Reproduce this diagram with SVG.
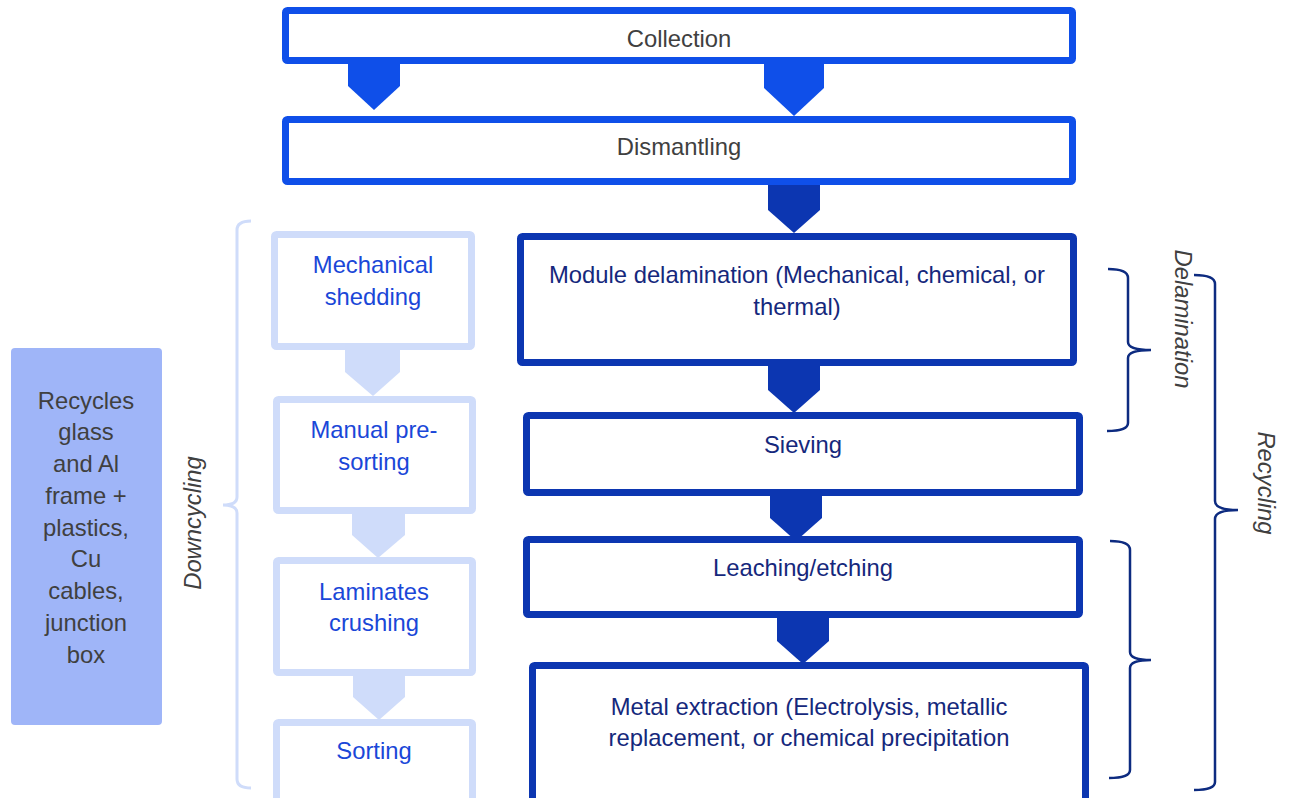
<svg xmlns="http://www.w3.org/2000/svg" width="1290" height="798" viewBox="0 0 1290 798">
<style>
text{font-family:"Liberation Sans",Arial,sans-serif;font-size:23.8px;text-anchor:middle}
.top{fill:#fff;stroke:#0f4fe9;stroke-width:7}
.dark{fill:#fff;stroke:#0c36b1;stroke-width:7}
.light{fill:#fff;stroke:#cfdcfa;stroke-width:7}
.tg{fill:#404040}
.tn{fill:#15287c}
.tb{fill:#1a47d8}
.lab{fill:#404040;font-style:italic}
.atop{fill:#0f4fe9}
.adark{fill:#0c36b1}
.alight{fill:#cfdcfa}
.br{fill:none;stroke:#0d2b80;stroke-width:2.5}
.brl{fill:none;stroke:#cfdcfa;stroke-width:3}
</style>
<rect width="1290" height="798" fill="#fff"/>
<g id="connectors">
<path class="atop" d="M348,62 H400 V86 L374,110 L348,86 Z"/>
<path class="atop" d="M764,62 H824 V88 L794,116 L764,88 Z"/>
<path class="adark" d="M768,184 H820 V210 L794,233 L768,210 Z"/>
<path class="adark" d="M768,365 H820 V390 L794,413 L768,390 Z"/>
<path class="adark" d="M770,495 H822 V518 L796,541 L770,518 Z"/>
<path class="adark" d="M777,617 H829 V641 L803,664 L777,641 Z"/>
<path class="alight" d="M345,349 H400 V372 L373,396 L345,372 Z"/>
<path class="alight" d="M352,513 H405 V535 L378,558 L352,535 Z"/>
<path class="alight" d="M353,675 H405 V697 L379,720 L353,697 Z"/>
</g>
<g id="collection"><rect class="top" x="285.5" y="10.5" width="787" height="50" rx="2"/><text class="tg" x="679" y="47">Collection</text></g>
<g id="dismantling"><rect class="top" x="285.5" y="119.5" width="787" height="62" rx="2"/><text class="tg" x="679" y="155">Dismantling</text></g>
<g id="module"><rect class="dark" x="520.5" y="236.5" width="553" height="126" rx="2"/><text class="tn" x="797" y="283">Module delamination (Mechanical, chemical, or</text><text class="tn" x="797" y="315">thermal)</text></g>
<g id="sieving"><rect class="dark" x="526.5" y="415.5" width="553" height="77" rx="2"/><text class="tn" x="803" y="453">Sieving</text></g>
<g id="leaching"><rect class="dark" x="526.5" y="539.5" width="553" height="75" rx="2"/><text class="tn" x="803" y="576">Leaching/etching</text></g>
<g id="metal"><rect class="dark" x="532.5" y="665.5" width="553" height="140" rx="2"/><text class="tn" x="809" y="715">Metal extraction (Electrolysis, metallic</text><text class="tn" x="809" y="746">replacement, or chemical precipitation</text></g>
<g id="mechanical"><rect class="light" x="274.5" y="234.5" width="197" height="112" rx="2"/><text class="tb" x="373" y="273">Mechanical</text><text class="tb" x="373" y="305">shedding</text></g>
<g id="manual"><rect class="light" x="276.5" y="399.5" width="196" height="111" rx="2"/><text class="tb" x="374" y="438">Manual pre-</text><text class="tb" x="374" y="470">sorting</text></g>
<g id="laminates"><rect class="light" x="276.5" y="560.5" width="196" height="112" rx="2"/><text class="tb" x="374" y="600">Laminates</text><text class="tb" x="374" y="631">crushing</text></g>
<g id="sorting"><rect class="light" x="276.5" y="722.5" width="196" height="90" rx="2"/><text class="tb" x="374" y="759">Sorting</text></g>
<g id="recycles"><rect x="11" y="348" width="151" height="377" rx="4" fill="#9fb5f8"/>
<text class="tg" x="86" y="409">Recycles</text><text class="tg" x="86" y="440">glass</text><text class="tg" x="86" y="472">and Al</text><text class="tg" x="86" y="504">frame +</text><text class="tg" x="86" y="536">plastics,</text><text class="tg" x="86" y="567">Cu</text><text class="tg" x="86" y="599">cables,</text><text class="tg" x="86" y="631">junction</text><text class="tg" x="86" y="663">box</text></g>
<g id="downcycling"><path class="brl" d="M251,221 Q237,221 237,230 L237,497 Q237,505 223,505 Q237,505 237,513 L237,779 Q237,788 251,788"/><text class="lab" transform="translate(201,523) rotate(-90)">Downcycling</text></g>
<g id="delamination"><path class="br" d="M1108,269 Q1128,269 1128,278 L1128,342 Q1128,350 1151,350 Q1128,350 1128,358 L1128,423 Q1128,431 1107,431"/><text class="lab" transform="translate(1175,319) rotate(90)">Delamination</text></g>
<g id="recycling"><path class="br" d="M1194,275 Q1215,275 1215,284 L1215,501 Q1215,510 1238,510 Q1215,510 1215,519 L1215,782 Q1215,790 1194,790"/><text class="lab" transform="translate(1258,483) rotate(90)">Recycling</text></g>
<g id="lower-bracket"><path class="br" d="M1110,541 Q1130,541 1130,550 L1130,652 Q1130,660 1151,660 Q1130,660 1130,668 L1130,770 Q1130,778 1109,778"/></g>
</svg>
